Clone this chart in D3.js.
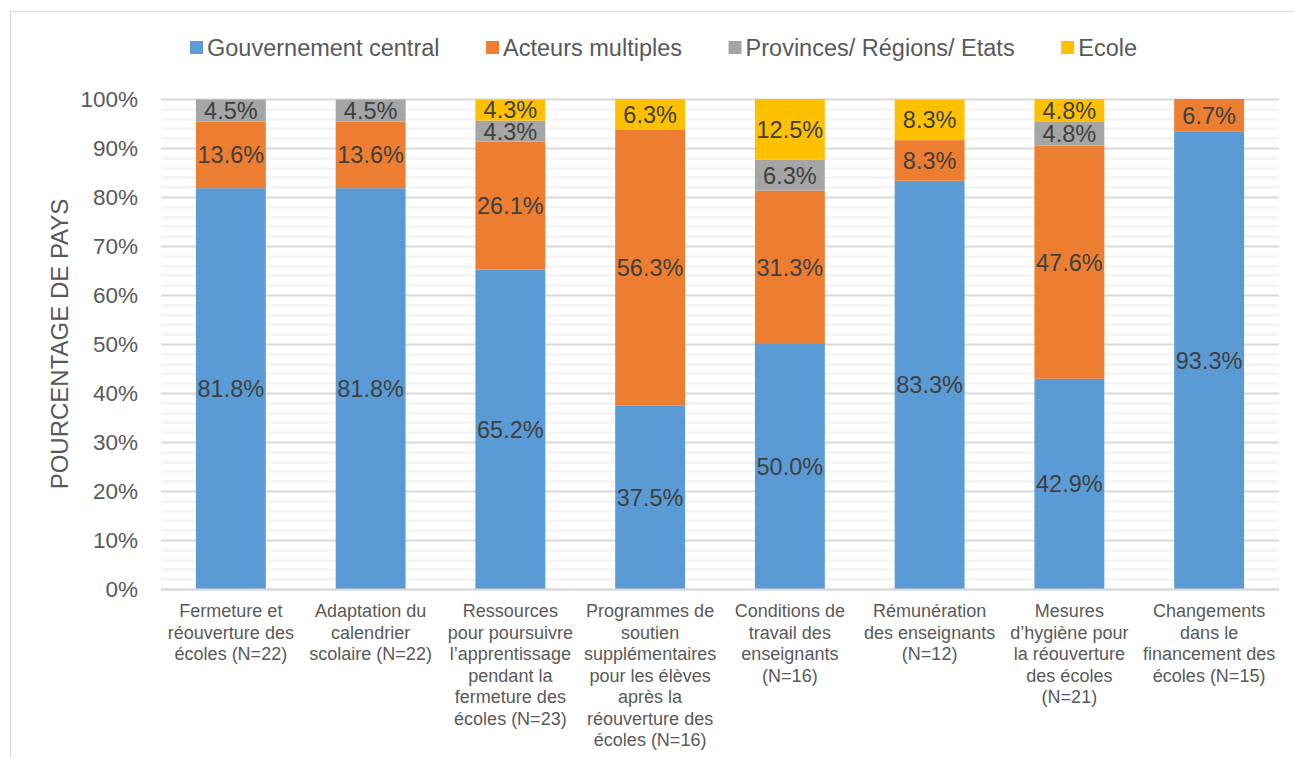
<!DOCTYPE html>
<html>
<head>
<meta charset="utf-8">
<script src="https://cdn.jsdelivr.net/npm/d3@7"></script>
<style>
  html, body { margin: 0; padding: 0; background: #fff; }
  svg { display: block; font-family: "Liberation Sans", Arial, sans-serif; }
</style>
</head>
<body>
<svg id="chart" width="1295" height="758"></svg>
<script>
// Categories (line breaks mark the wrapped label lines)
const categories = [
  "Fermeture et\nréouverture des\nécoles (N=22)",
  "Adaptation du\ncalendrier\nscolaire (N=22)",
  "Ressources\npour poursuivre\nl’apprentissage\npendant la\nfermeture des\nécoles (N=23)",
  "Programmes de\nsoutien\nsupplémentaires\npour les élèves\naprès la\nréouverture des\nécoles (N=16)",
  "Conditions de\ntravail des\nenseignants\n(N=16)",
  "Rémunération\ndes enseignants\n(N=12)",
  "Mesures\nd’hygiène pour\nla réouverture\ndes écoles\n(N=21)",
  "Changements\ndans le\nfinancement des\nécoles (N=15)"
];

const seriesNames = ["Gouvernement central", "Acteurs multiples", "Provinces/ Régions/ Etats", "Ecole"];
const seriesColors = ["#5B9BD5", "#ED7D31", "#A5A5A5", "#FFC000"];

// Percentages per series, one value per category
const gouvernementCentral = [81.8, 81.8, 65.2, 37.5, 50.0, 83.3, 42.9, 93.3];
const acteursMultiples    = [13.6, 13.6, 26.1, 56.3, 31.3, 8.3, 47.6, 6.7];
const provincesRegions    = [4.5, 4.5, 4.3, 0, 6.3, 0, 4.8, 0];
const ecole               = [0, 0, 4.3, 6.3, 12.5, 8.3, 4.8, 0];

const yTicks = [0, 10, 20, 30, 40, 50, 60, 70, 80, 90, 100];
const yMinorTicks = d3.range(0, 101, 2);

const seriesValues = [gouvernementCentral, acteursMultiples, provincesRegions, ecole];

const table = categories.map((c, i) => {
  const row = { cat: c };
  seriesNames.forEach((s, j) => row[s] = seriesValues[j][i]);
  return row;
});

const svg = d3.select("#chart");
const textGray = "#595959";

// Outer chart frame
svg.append("rect")
  .attr("x", 10.5).attr("y", 11.5)
  .attr("width", 1400).attr("height", 900)
  .attr("fill", "none").attr("stroke", "#d9d9d9").attr("stroke-width", 1);

const plot = { left: 161, right: 1279, top: 99, bottom: 589 };

const x = d3.scaleBand()
  .domain(categories)
  .range([plot.left, plot.right])
  .paddingInner(0.5)
  .paddingOuter(0.25);

const y = d3.scaleLinear()
  .domain([0, 100])
  .range([plot.bottom, plot.top])
  .clamp(true);

// Minor gridlines
svg.append("g")
  .selectAll("line")
  .data(yMinorTicks.filter(v => v % 10 !== 0))
  .join("line")
  .attr("x1", plot.left).attr("x2", plot.right)
  .attr("y1", d => Math.round(y(d)) + 0.5).attr("y2", d => Math.round(y(d)) + 0.5)
  .attr("stroke", "#f2f2f2").attr("stroke-width", 2);

// Major gridlines + tick labels via axis
const yAxis = d3.axisLeft(y)
  .tickValues(yTicks)
  .tickSize(-(plot.right - plot.left))
  .tickPadding(23)
  .tickFormat(d => d + "%");

const gy = svg.append("g")
  .attr("transform", `translate(${plot.left},0)`)
  .call(yAxis);
gy.select(".domain").remove();
gy.selectAll(".tick line")
  .attr("stroke", "#d9d9d9").attr("stroke-width", 2);
gy.selectAll(".tick text")
  .attr("fill", textGray)
  .style("font-size", "22.5px")
  .attr("dy", "0.35em");

// Stacked bars
const stack = d3.stack().keys(seriesNames);
const stacked = stack(table);

const layers = svg.append("g")
  .selectAll("g")
  .data(stacked)
  .join("g")
  .attr("fill", (d, i) => seriesColors[i]);

layers.selectAll("rect")
  .data(d => d.filter(p => p[1] - p[0] > 0))
  .join("rect")
  .attr("x", d => x(d.data.cat))
  .attr("width", x.bandwidth())
  .attr("y", d => y(d[1]))
  .attr("height", d => y(d[0]) - y(d[1]));

// Baseline
svg.append("line")
  .attr("x1", plot.left).attr("x2", plot.right)
  .attr("y1", plot.bottom + 0.5).attr("y2", plot.bottom + 0.5)
  .attr("stroke", "#d9d9d9").attr("stroke-width", 2);

// Value labels
const labelG = svg.append("g");
stacked.forEach((layer, i) => {
  layer.forEach(p => {
    const v = p.data[seriesNames[i]];
    if (!(v > 0)) return;
    labelG.append("text")
      .attr("x", x(p.data.cat) + x.bandwidth() / 2)
      .attr("y", (y(p[0]) + y(p[1])) / 2)
      .attr("dy", "0.36em")
      .attr("text-anchor", "middle")
      .attr("fill", "#404040")
      .style("font-size", "23.5px")
      .text(v.toFixed(1) + "%");
  });
});

// Category labels
const catG = svg.append("g");
categories.forEach(c => {
  const t = catG.append("text")
    .attr("text-anchor", "middle")
    .attr("fill", textGray)
    .style("font-size", "18px");
  c.split("\n").forEach((line, k) => {
    t.append("tspan")
      .attr("x", x(c) + x.bandwidth() / 2)
      .attr("y", 617 + k * 21.5)
      .text(line);
  });
});

// Y axis title
svg.append("text")
  .attr("transform", `translate(68,${(plot.top + plot.bottom) / 2}) rotate(-90)`)
  .attr("text-anchor", "middle")
  .attr("fill", textGray)
  .style("font-size", "24px")
  .text("POURCENTAGE DE PAYS");

// Legend: items spread between fixed left and right edges
const legend = svg.append("g").attr("transform", "translate(0,48)");
const sw = 13, gapText = 4;
const legendLeft = 190, legendRight = 1137;
const groups = seriesNames.map((name, i) => {
  const g = legend.append("g");
  g.append("rect")
    .attr("x", 0).attr("y", -7)
    .attr("width", sw).attr("height", sw)
    .attr("fill", seriesColors[i]);
  const t = g.append("text")
    .attr("x", sw + gapText).attr("y", 0)
    .attr("dy", "0.36em")
    .attr("fill", textGray)
    .style("font-size", "23.5px")
    .text(name);
  return { g, w: sw + gapText + t.node().getComputedTextLength() };
});
const sumW = d3.sum(groups, d => d.w);
const gapItem = (legendRight - legendLeft - sumW) / (groups.length - 1);
let cx = legendLeft;
groups.forEach(d => {
  d.g.attr("transform", `translate(${cx},0)`);
  cx += d.w + gapItem;
});
</script>
</body>
</html>
